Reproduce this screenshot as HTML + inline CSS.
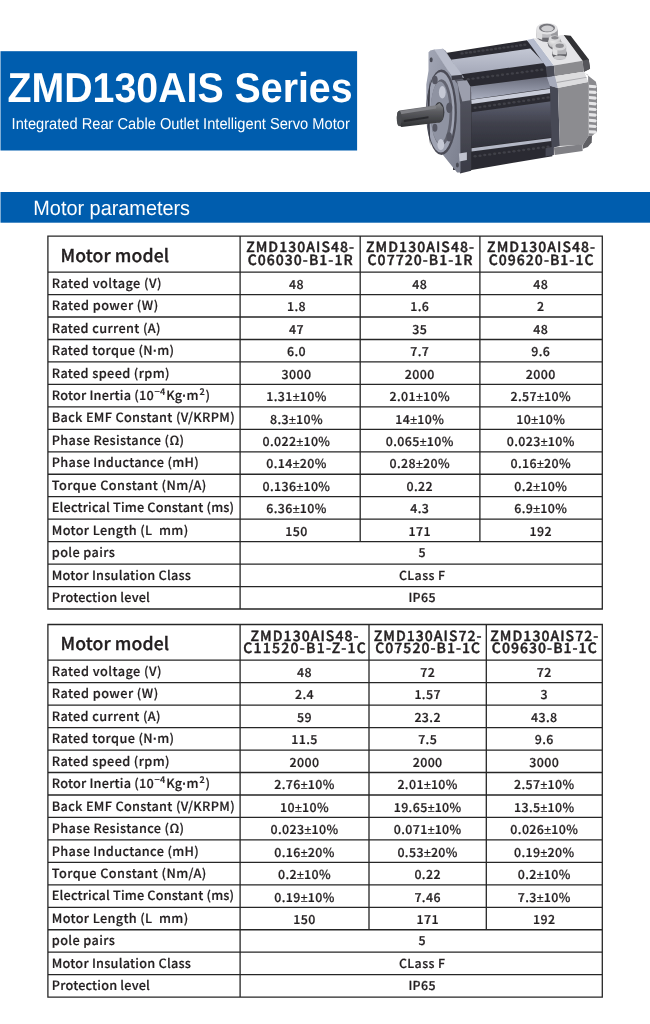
<!DOCTYPE html>
<html lang="en">
<head>
<meta charset="utf-8">
<title>ZMD130AIS Series</title>
<style>
*{margin:0;padding:0;box-sizing:border-box}
html,body{width:650px;height:1024px;background:#fff;overflow:hidden}
body{position:relative;font-family:"Noto Sans CJK SC", "Liberation Sans", sans-serif;color:#231f20;text-rendering:geometricPrecision}
.title{position:absolute;left:0;top:0;transform-origin:0 0;transform:translate(7.5px,57.9px) scaleX(0.9425);color:#fff;font-family:"Liberation Sans",sans-serif;font-weight:700;font-size:41.7px;line-height:60px;white-space:nowrap}
.sub{position:absolute;left:0;top:0;transform-origin:0 0;transform:translate(11.6px,109.6px) scaleX(0.928);color:#fff;font-family:"Liberation Sans",sans-serif;font-weight:400;font-size:15.8px;line-height:30px;white-space:nowrap}
.bart{position:absolute;left:0;top:0;transform-origin:0 0;transform:translate(33.3px,193.7px) scaleX(0.96);color:#fff;font-family:"Liberation Sans",sans-serif;font-weight:400;font-size:20.7px;line-height:30px;white-space:nowrap}
.grid,.bg{position:absolute;left:0;top:0;pointer-events:none}
.pm{font-family:"Liberation Sans",sans-serif;font-weight:400;letter-spacing:0.2px}
.dot{font-family:"Liberation Sans",sans-serif;font-weight:700;letter-spacing:0}
table,thead,tbody,tr,th{display:contents}
.mm,.hd,.lb,.vl{display:block;position:absolute;white-space:nowrap;font-weight:500;text-align:left;vertical-align:baseline}
.mm{font-size:17.6px;line-height:36px;padding-left:12.6px;letter-spacing:0.12px;-webkit-text-stroke:0.35px #231f20}
.hd{font-size:14px;line-height:14px;text-align:center;letter-spacing:1.05px;padding-left:1px;-webkit-text-stroke:0.42px #231f20}
.lb{font-size:12.7px;line-height:22px;padding-left:3.9px;-webkit-text-stroke:0.2px #231f20}
.vl{font-size:12.4px;line-height:22px;text-align:center;letter-spacing:0.4px;-webkit-text-stroke:0.22px #231f20}
sup{font-size:9.2px;line-height:0;vertical-align:baseline;position:relative;top:-4.8px;letter-spacing:0.3px;margin:0 0.5px 0 0.7px}
.motor{position:absolute;left:0;top:0}
</style>
</head>
<body>
<svg class="bg" width="650" height="230" viewBox="0 0 650 230"><rect x="0.5" y="51.2" width="356.6" height="99.3" fill="#005dae"/><rect x="0.5" y="192" width="650" height="30.7" fill="#005dae"/></svg>
<h1 class="title">ZMD130AIS Series</h1>
<p class="sub">Integrated Rear Cable Outlet Intelligent Servo Motor</p>
<svg class="motor" width="650" height="190" viewBox="0 0 650 190"><defs>
<linearGradient id="gShaft" x1="0" y1="0" x2="0" y2="1"><stop offset="0" stop-color="#8a8b8f"/><stop offset="0.35" stop-color="#5b5c60"/><stop offset="1" stop-color="#2f3033"/></linearGradient>
<linearGradient id="gFace" x1="0" y1="0" x2="1" y2="1"><stop offset="0" stop-color="#a3a7b6"/><stop offset="1" stop-color="#7b7f8e"/></linearGradient>
<linearGradient id="gSide" x1="0" y1="0" x2="0" y2="1"><stop offset="0" stop-color="#9a9dab"/><stop offset="0.18" stop-color="#5a5b66"/><stop offset="1" stop-color="#3a3b45"/></linearGradient>
<linearGradient id="gBig" x1="0" y1="0" x2="0" y2="1"><stop offset="0" stop-color="#5d6070"/><stop offset="0.5" stop-color="#3f404b"/><stop offset="1" stop-color="#30313a"/></linearGradient>
<linearGradient id="gL2" x1="0" y1="0" x2="0" y2="1"><stop offset="0" stop-color="#6a6d7c"/><stop offset="1" stop-color="#a9aebf"/></linearGradient>
<linearGradient id="gL1" x1="0" y1="0" x2="0" y2="1"><stop offset="0" stop-color="#c3c7d4"/><stop offset="1" stop-color="#a4a8b8"/></linearGradient>
<radialGradient id="gGl" cx="0.4" cy="0.35" r="0.7"><stop offset="0" stop-color="#f4f4f4"/><stop offset="0.7" stop-color="#c4c4c6"/><stop offset="1" stop-color="#77777a"/></radialGradient>
<filter id="soft" x="-5%" y="-5%" width="110%" height="110%"><feGaussianBlur stdDeviation="0.45"/></filter>
</defs><g filter="url(#soft)"><polygon points="445.5,53.0 526.9,40.3 552.3,66.2 552.3,156.2 471.5,170.0 453.1,170.0 453.1,77.7" fill="#2b2b31" /><polygon points="450.8,59.7 530.4,48.6 544.2,62.9 460.0,74.5" fill="url(#gL1)" /><polygon points="470.4,86.5 547.2,76.8 550.5,88.3 471.1,99.4" fill="url(#gL2)" /><polygon points="471.1,99.8 550.5,88.8 551.4,92.9 471.5,104.0" fill="#c9cdda" /><polygon points="471.5,112.3 551.4,101.2 551.4,137.2 471.5,147.4" fill="url(#gBig)" /><polygon points="471.5,148.3 551.4,137.9 551.4,140.9 471.5,151.5" fill="#b4b8c6" /><ellipse cx="462.1" cy="53.4" rx="1.6" ry="1.2" fill="#404148"/><ellipse cx="466.3" cy="52.8" rx="1.6" ry="1.2" fill="#404148"/><ellipse cx="470.5" cy="52.3" rx="1.6" ry="1.2" fill="#404148"/><ellipse cx="474.6" cy="51.7" rx="1.6" ry="1.2" fill="#404148"/><ellipse cx="478.8" cy="51.1" rx="1.6" ry="1.2" fill="#404148"/><ellipse cx="483.0" cy="50.5" rx="1.6" ry="1.2" fill="#404148"/><ellipse cx="487.2" cy="49.9" rx="1.6" ry="1.2" fill="#404148"/><ellipse cx="491.4" cy="49.4" rx="1.6" ry="1.2" fill="#404148"/><ellipse cx="495.6" cy="48.8" rx="1.6" ry="1.2" fill="#404148"/><ellipse cx="499.7" cy="48.2" rx="1.6" ry="1.2" fill="#404148"/><ellipse cx="503.9" cy="47.6" rx="1.6" ry="1.2" fill="#404148"/><ellipse cx="508.1" cy="47.1" rx="1.6" ry="1.2" fill="#404148"/><ellipse cx="512.3" cy="46.5" rx="1.6" ry="1.2" fill="#404148"/><ellipse cx="516.5" cy="45.9" rx="1.6" ry="1.2" fill="#404148"/><ellipse cx="520.6" cy="45.3" rx="1.6" ry="1.2" fill="#404148"/><ellipse cx="524.8" cy="44.8" rx="1.6" ry="1.2" fill="#404148"/><ellipse cx="468.2" cy="79.2" rx="1.6" ry="1.2" fill="#404148"/><ellipse cx="473.1" cy="78.6" rx="1.6" ry="1.2" fill="#404148"/><ellipse cx="478.0" cy="78.0" rx="1.6" ry="1.2" fill="#404148"/><ellipse cx="482.9" cy="77.3" rx="1.6" ry="1.2" fill="#404148"/><ellipse cx="487.8" cy="76.7" rx="1.6" ry="1.2" fill="#404148"/><ellipse cx="492.7" cy="76.0" rx="1.6" ry="1.2" fill="#404148"/><ellipse cx="497.6" cy="75.4" rx="1.6" ry="1.2" fill="#404148"/><ellipse cx="502.5" cy="74.8" rx="1.6" ry="1.2" fill="#404148"/><ellipse cx="507.5" cy="74.1" rx="1.6" ry="1.2" fill="#404148"/><ellipse cx="512.4" cy="73.5" rx="1.6" ry="1.2" fill="#404148"/><ellipse cx="517.3" cy="72.9" rx="1.6" ry="1.2" fill="#404148"/><ellipse cx="522.2" cy="72.2" rx="1.6" ry="1.2" fill="#404148"/><ellipse cx="527.1" cy="71.6" rx="1.6" ry="1.2" fill="#404148"/><ellipse cx="532.0" cy="71.0" rx="1.6" ry="1.2" fill="#404148"/><ellipse cx="536.9" cy="70.3" rx="1.6" ry="1.2" fill="#404148"/><ellipse cx="541.8" cy="69.7" rx="1.6" ry="1.2" fill="#404148"/><ellipse cx="475.1" cy="107.8" rx="1.6" ry="1.2" fill="#404148"/><ellipse cx="480.0" cy="107.1" rx="1.6" ry="1.2" fill="#404148"/><ellipse cx="484.8" cy="106.4" rx="1.6" ry="1.2" fill="#404148"/><ellipse cx="489.7" cy="105.7" rx="1.6" ry="1.2" fill="#404148"/><ellipse cx="494.6" cy="105.0" rx="1.6" ry="1.2" fill="#404148"/><ellipse cx="499.4" cy="104.3" rx="1.6" ry="1.2" fill="#404148"/><ellipse cx="504.3" cy="103.7" rx="1.6" ry="1.2" fill="#404148"/><ellipse cx="509.1" cy="103.0" rx="1.6" ry="1.2" fill="#404148"/><ellipse cx="514.0" cy="102.3" rx="1.6" ry="1.2" fill="#404148"/><ellipse cx="518.9" cy="101.6" rx="1.6" ry="1.2" fill="#404148"/><ellipse cx="523.7" cy="100.9" rx="1.6" ry="1.2" fill="#404148"/><ellipse cx="528.6" cy="100.2" rx="1.6" ry="1.2" fill="#404148"/><ellipse cx="533.5" cy="99.5" rx="1.6" ry="1.2" fill="#404148"/><ellipse cx="538.3" cy="98.8" rx="1.6" ry="1.2" fill="#404148"/><ellipse cx="543.2" cy="98.1" rx="1.6" ry="1.2" fill="#404148"/><ellipse cx="548.0" cy="97.4" rx="1.6" ry="1.2" fill="#404148"/><ellipse cx="475.1" cy="156.3" rx="1.6" ry="1.2" fill="#404148"/><ellipse cx="480.0" cy="155.7" rx="1.6" ry="1.2" fill="#404148"/><ellipse cx="484.8" cy="155.0" rx="1.6" ry="1.2" fill="#404148"/><ellipse cx="489.7" cy="154.4" rx="1.6" ry="1.2" fill="#404148"/><ellipse cx="494.6" cy="153.8" rx="1.6" ry="1.2" fill="#404148"/><ellipse cx="499.4" cy="153.1" rx="1.6" ry="1.2" fill="#404148"/><ellipse cx="504.3" cy="152.5" rx="1.6" ry="1.2" fill="#404148"/><ellipse cx="509.1" cy="151.9" rx="1.6" ry="1.2" fill="#404148"/><ellipse cx="514.0" cy="151.2" rx="1.6" ry="1.2" fill="#404148"/><ellipse cx="518.9" cy="150.6" rx="1.6" ry="1.2" fill="#404148"/><ellipse cx="523.7" cy="150.0" rx="1.6" ry="1.2" fill="#404148"/><ellipse cx="528.6" cy="149.3" rx="1.6" ry="1.2" fill="#404148"/><ellipse cx="533.5" cy="148.7" rx="1.6" ry="1.2" fill="#404148"/><ellipse cx="538.3" cy="148.0" rx="1.6" ry="1.2" fill="#404148"/><ellipse cx="543.2" cy="147.4" rx="1.6" ry="1.2" fill="#404148"/><ellipse cx="548.0" cy="146.8" rx="1.6" ry="1.2" fill="#404148"/><polygon points="545.6,66.1 553.9,65.4 554.9,76.2 547.1,77.3" fill="#4a4b57" /><polygon points="547.1,77.3 554.9,76.2 557.7,87.8 549.9,85.9" fill="#a7abbb" /><polygon points="549.9,85.8 557.9,88.1 559.9,146.1 553.9,147.5 553.9,155.1 545.6,156.5 545.6,148.2 551.6,147.0" fill="#474854" /><polygon points="526.9,39.9 533.8,38.4 553.9,65.4 546.0,66.5" fill="#b6bccd" /><polygon points="533.8,38.4 563.2,34.9 582.6,60.7 553.9,65.4" fill="#e4e4e7" /><polygon points="563.6,34.9 570.7,35.8 588.7,59.3 590.1,68.7 584.0,71.8 582.6,60.7" fill="#333336" /><polygon points="582.6,60.7 588.7,59.3 590.1,68.7 584.0,71.8" fill="#55555a" /><polygon points="553.9,65.4 582.6,60.7 584.0,71.8 554.9,76.2" fill="#8b8b8f" /><polygon points="554.9,76.2 584.0,71.8 588.1,82.0 557.7,87.8" fill="#dcdcde" /><polygon points="556.3,82.0 586.2,77.0 586.5,77.8 556.6,83.0" fill="#a8a8ac" /><polygon points="557.9,88.1 588.1,82.1 588.7,135.7 583.0,144.7 559.9,146.1" fill="#8c8c90" /><polygon points="554.9,76.2 584.0,71.8 588.1,82.0 557.7,87.8" fill="#dcdcde" /><polygon points="556.3,82.0 586.2,77.0 586.5,77.8 556.6,83.0" fill="#a8a8ac" /><polygon points="547.1,77.3 554.9,76.2 557.7,87.8 549.9,85.9" fill="#a7abbb" /><polygon points="553.9,147.5 582.6,144.3 582.6,150.9 554.6,155.1" fill="#808085" /><polygon points="583.0,144.7 588.7,135.7 592.0,136.0 591.7,142.6 587.8,147.0 583.0,148.8" fill="#5f5f64" /><polygon points="584.8,73.1 595.9,81.7 597.0,87.2 597.0,131.5 592.0,136.0 588.7,135.7 588.1,75.0" fill="#8a8a8e" /><polygon points="589.0,84.7 595.5,85.2 597.0,86.7 595.5,88.3 589.0,87.8" fill="#e6e6e8" /><polygon points="589.0,90.4 595.5,90.8 597.0,92.4 595.5,94.0 589.0,93.5" fill="#e6e6e8" /><polygon points="589.0,96.1 595.5,96.5 597.0,98.0 595.5,99.7 589.0,99.1" fill="#e6e6e8" /><polygon points="589.0,101.8 595.5,102.2 597.0,103.7 595.5,105.4 589.0,104.8" fill="#e6e6e8" /><polygon points="589.0,107.4 595.5,107.9 597.0,109.4 595.5,111.0 589.0,110.5" fill="#e6e6e8" /><polygon points="589.0,113.1 595.5,113.5 597.0,115.1 595.5,116.7 589.0,116.2" fill="#e6e6e8" /><polygon points="589.0,118.8 595.5,119.2 597.0,120.7 595.5,122.4 589.0,121.8" fill="#e6e6e8" /><polygon points="589.0,124.5 595.5,124.9 597.0,126.4 595.5,128.1 589.0,127.5" fill="#e6e6e8" /><polygon points="589.0,130.2 595.5,130.6 597.0,132.1 595.5,133.8 589.0,133.2" fill="#e6e6e8" /><ellipse cx="547.0" cy="34.9" rx="10.8" ry="7.2" fill="#6b6b70" /><polygon points="536.3,29.4 557.7,29.4 557.7,37.7 536.3,37.7" fill="#bcbcc0" /><polygon points="536.3,29.4 542.2,29.4 542.2,39.8 536.3,37.7" fill="#dedee0" /><polygon points="551.2,29.4 557.7,29.4 557.7,37.7 551.2,39.8" fill="#9a9a9e" /><ellipse cx="547.0" cy="28.7" rx="10.8" ry="5.8" fill="#e2e2e4" /><ellipse cx="547.0" cy="28.0" rx="8.0" ry="4.2" fill="#77777c" /><ellipse cx="547.4" cy="28.6" rx="6.1" ry="3.0" fill="#cfcfd2" /><ellipse cx="554.6" cy="43.2" rx="6.9" ry="6.4" fill="#6b6b70" /><ellipse cx="554.6" cy="42.1" rx="6.6" ry="6.1" fill="url(#gGl)" /><ellipse cx="554.6" cy="38.4" rx="5.8" ry="3.0" fill="#d8d8da" /><ellipse cx="554.9" cy="37.7" rx="3.6" ry="1.7" fill="#8a8a8e" /><ellipse cx="559.5" cy="54.0" rx="7.5" ry="5.8" fill="#5f5f64" /><polygon points="552.7,46.3 566.2,46.3 566.2,54.3 552.7,54.3" fill="#b4b4b8" /><polygon points="552.7,46.3 557.4,46.3 557.4,55.7 552.7,54.3" fill="#e0e0e2" /><ellipse cx="559.5" cy="46.3" rx="6.9" ry="4.2" fill="#d6d6d8" /><ellipse cx="559.7" cy="45.7" rx="4.2" ry="2.2" fill="#8e8e92" /><ellipse cx="559.9" cy="57.6" rx="6.4" ry="2.2" fill="#c8c8cb" /><polygon points="442.3,48.6 445.7,50.8 462.3,78.5 470.0,86.2 471.2,92.3 471.2,170.8 460.0,173.5 457.7,104.6" fill="url(#gSide)" /><polygon points="433.8,49.5 443.1,48.8 464.2,77.8 451.8,76.6" fill="#b9bdcb" /><polygon points="457.1,81.2 466.9,80.3 470.3,86.2 470.3,100.3 462.3,101.5 459.2,90.8" fill="#9c9fad" /><polygon points="428.5,52.3 430.3,50.5 434.3,49.5 451.8,76.3 457.7,84.6 460.2,104.6 460.5,172.6 457.1,172.6 436.2,146.5 428.8,132.3 426.3,120.0 426.3,84.6 428.5,70.8" fill="url(#gFace)" /><ellipse cx="431.2" cy="59.7" rx="1.5" ry="2.5" fill="#4a4b55" /><ellipse cx="457.4" cy="164.9" rx="1.5" ry="2.5" fill="#4a4b55" /><polygon points="451.5,75.7 462.3,74.8 462.3,78.8 451.8,80.3" fill="#3a3b44" /><polygon points="458.9,153.5 466.9,152.3 466.9,160.0 459.5,161.5" fill="#c0c3cf" /><ellipse cx="441.5" cy="112.3" rx="15.4" ry="42.8" fill="#4b4c57" /><ellipse cx="440.8" cy="112.3" rx="13.8" ry="40.3" fill="#a0a4b3" /><ellipse cx="441.5" cy="112.3" rx="10.8" ry="33.1" fill="#62646f" /><ellipse cx="440.0" cy="112.3" rx="9.5" ry="30.8" fill="#8f93a2" /><path d="M430.3 78.5 Q424.6 112.3 430.3 146.2 Q428.5 112.3 430.3 78.5Z" fill="#3a3b44"/><ellipse cx="449.2" cy="107.7" rx="3.1" ry="5.2" fill="#555762" /><ellipse cx="449.2" cy="136.9" rx="2.8" ry="4.6" fill="#555762" /><ellipse cx="434.9" cy="80.0" rx="2.8" ry="4.3" fill="#555762" /><ellipse cx="434.9" cy="127.7" rx="2.5" ry="4.0" fill="#555762" /><ellipse cx="442.3" cy="92.3" rx="3.4" ry="6.2" fill="#c5c8d4" /><ellipse cx="440.8" cy="144.6" rx="3.4" ry="5.5" fill="#c5c8d4" /><ellipse cx="439.2" cy="112.3" rx="5.2" ry="10.2" fill="#3c3d42" /><polygon points="399.5,110.5 436.2,105.2 439.5,103.1 443.1,107.7 443.1,118.5 439.5,122.5 401.5,127.1 397.7,124.3 396.8,116.9 397.4,112.3" fill="url(#gShaft)" /><polygon points="400.2,111.1 436.2,105.8 436.2,108.6 400.2,114.2" fill="#808186" /><ellipse cx="399.2" cy="118.5" rx="2.5" ry="7.7" fill="#4a4b4f" /><polygon points="403.8,120.0 428.5,116.3 428.5,118.2 403.8,122.2" fill="#2a2b2e" /></g></svg>
<h2 class="bart">Motor parameters</h2>
<svg class="grid" width="650" height="1024" viewBox="0 0 650 1024"><path d="M47.25 236.2H602.95M47.25 272.1H602.95M47.25 294.56H602.95M47.25 317.02H602.95M47.25 339.48H602.95M47.25 361.94H602.95M47.25 384.4H602.95M47.25 406.86H602.95M47.25 429.32H602.95M47.25 451.78H602.95M47.25 474.24H602.95M47.25 496.7H602.95M47.25 519.16H602.95M47.25 541.62H602.95M47.25 564.08H602.95M47.25 586.54H602.95M47.25 609H602.95M47.9 236.2V609M240.1 236.2V609M360.2 236.2V541.62M479.9 236.2V541.62M602.3 236.2V609" fill="none" stroke="#262626" stroke-width="1.3"/></svg>
<table>
<thead><tr>
<th class="mm" style="left:47.9px;top:238px;width:192.2px">Motor model</th>
<th><span class="hd" style="left:240.1px;top:240px;width:120.1px">ZMD130AIS48-</span><span class="hd" style="left:240.1px;top:253px;width:120.1px">C06030-B1-1R</span></th>
<th><span class="hd" style="left:360.2px;top:240px;width:119.7px">ZMD130AIS48-</span><span class="hd" style="left:360.2px;top:253px;width:119.7px">C07720-B1-1R</span></th>
<th><span class="hd" style="left:479.9px;top:240px;width:122.4px">ZMD130AIS48-</span><span class="hd" style="left:479.9px;top:253px;width:122.4px">C09620-B1-1C</span></th>
</tr></thead>
<tbody>
<tr><th class="lb" style="left:47.9px;top:272px;width:192.2px;letter-spacing:0.46px">Rated voltage (V)</th><td class="vl" style="left:236.4px;top:273px;width:120.1px">48</td><td class="vl" style="left:359.9px;top:273px;width:119.7px">48</td><td class="vl" style="left:479.6px;top:273px;width:122.4px">48</td></tr>
<tr><th class="lb" style="left:47.9px;top:294px;width:192.2px;letter-spacing:0.46px">Rated power (W)</th><td class="vl" style="left:236.4px;top:295px;width:120.1px">1.8</td><td class="vl" style="left:359.9px;top:295px;width:119.7px">1.6</td><td class="vl" style="left:479.6px;top:295px;width:122.4px">2</td></tr>
<tr><th class="lb" style="left:47.9px;top:317px;width:192.2px;letter-spacing:0.38px">Rated current (A)</th><td class="vl" style="left:236.4px;top:318px;width:120.1px">47</td><td class="vl" style="left:359.9px;top:318px;width:119.7px">35</td><td class="vl" style="left:479.6px;top:318px;width:122.4px">48</td></tr>
<tr><th class="lb" style="left:47.9px;top:339px;width:192.2px;letter-spacing:0.38px">Rated torque (N<span class="dot">·</span>m)</th><td class="vl" style="left:236.4px;top:340px;width:120.1px">6.0</td><td class="vl" style="left:359.9px;top:340px;width:119.7px">7.7</td><td class="vl" style="left:479.6px;top:340px;width:122.4px">9.6</td></tr>
<tr><th class="lb" style="left:47.9px;top:362px;width:192.2px;letter-spacing:0.38px">Rated speed (rpm)</th><td class="vl" style="left:236.4px;top:363px;width:120.1px">3000</td><td class="vl" style="left:359.9px;top:363px;width:119.7px">2000</td><td class="vl" style="left:479.6px;top:363px;width:122.4px">2000</td></tr>
<tr><th class="lb" style="left:47.9px;top:384px;width:192.2px;letter-spacing:0.22px">Rotor Inertia (10<sup>−4</sup>Kg<span class="dot">·</span>m<sup>2</sup>)</th><td class="vl" style="left:236.4px;top:385px;width:120.1px">1.31<span class="pm">±</span>10%</td><td class="vl" style="left:359.9px;top:385px;width:119.7px">2.01<span class="pm">±</span>10%</td><td class="vl" style="left:479.6px;top:385px;width:122.4px">2.57<span class="pm">±</span>10%</td></tr>
<tr><th class="lb" style="left:47.9px;top:406px;width:192.2px;letter-spacing:0.33px">Back EMF Constant (V/KRPM)</th><td class="vl" style="left:236.4px;top:408px;width:120.1px">8.3<span class="pm">±</span>10%</td><td class="vl" style="left:359.9px;top:408px;width:119.7px">14<span class="pm">±</span>10%</td><td class="vl" style="left:479.6px;top:408px;width:122.4px">10<span class="pm">±</span>10%</td></tr>
<tr><th class="lb" style="left:47.9px;top:429px;width:192.2px;letter-spacing:0.36px">Phase Resistance (Ω)</th><td class="vl" style="left:236.4px;top:430px;width:120.1px">0.022<span class="pm">±</span>10%</td><td class="vl" style="left:359.9px;top:430px;width:119.7px">0.065<span class="pm">±</span>10%</td><td class="vl" style="left:479.6px;top:430px;width:122.4px">0.023<span class="pm">±</span>10%</td></tr>
<tr><th class="lb" style="left:47.9px;top:451px;width:192.2px;letter-spacing:0.34px">Phase Inductance (mH)</th><td class="vl" style="left:236.4px;top:452px;width:120.1px">0.14<span class="pm">±</span>20%</td><td class="vl" style="left:359.9px;top:452px;width:119.7px">0.28<span class="pm">±</span>20%</td><td class="vl" style="left:479.6px;top:452px;width:122.4px">0.16<span class="pm">±</span>20%</td></tr>
<tr><th class="lb" style="left:47.9px;top:474px;width:192.2px;letter-spacing:0.42px">Torque Constant (Nm/A)</th><td class="vl" style="left:236.4px;top:475px;width:120.1px">0.136<span class="pm">±</span>10%</td><td class="vl" style="left:359.9px;top:475px;width:119.7px">0.22</td><td class="vl" style="left:479.6px;top:475px;width:122.4px">0.2<span class="pm">±</span>10%</td></tr>
<tr><th class="lb" style="left:47.9px;top:496px;width:192.2px;letter-spacing:0.18px">Electrical Time Constant (ms)</th><td class="vl" style="left:236.4px;top:497px;width:120.1px">6.36<span class="pm">±</span>10%</td><td class="vl" style="left:359.9px;top:497px;width:119.7px">4.3</td><td class="vl" style="left:479.6px;top:497px;width:122.4px">6.9<span class="pm">±</span>10%</td></tr>
<tr><th class="lb" style="left:47.9px;top:519px;width:192.2px;letter-spacing:0.36px">Motor Length (L&nbsp; mm)</th><td class="vl" style="left:236.4px;top:520px;width:120.1px">150</td><td class="vl" style="left:359.9px;top:520px;width:119.7px">171</td><td class="vl" style="left:479.6px;top:520px;width:122.4px">192</td></tr>
<tr><th class="lb" style="left:47.9px;top:541px;width:192.2px;letter-spacing:0.38px">pole pairs</th><td class="vl" colspan="3" style="left:241.1px;top:541px;width:362.2px">5</td></tr>
<tr><th class="lb" style="left:47.9px;top:564px;width:192.2px;letter-spacing:0.24px">Motor Insulation Class</th><td class="vl" colspan="3" style="left:241.1px;top:564px;width:362.2px">CLass F</td></tr>
<tr><th class="lb" style="left:47.9px;top:586px;width:192.2px;letter-spacing:0.19px">Protection level</th><td class="vl" colspan="3" style="left:241.1px;top:586px;width:362.2px">IP65</td></tr>
</tbody></table>
<svg class="grid" width="650" height="1024" viewBox="0 0 650 1024"><path d="M47.25 624.5H602.95M47.25 660.2H602.95M47.25 682.66H602.95M47.25 705.13H602.95M47.25 727.59H602.95M47.25 750.05H602.95M47.25 772.52H602.95M47.25 794.98H602.95M47.25 817.44H602.95M47.25 839.91H602.95M47.25 862.37H602.95M47.25 884.83H602.95M47.25 907.3H602.95M47.25 929.76H602.95M47.25 952.22H602.95M47.25 974.69H602.95M47.25 997.15H602.95M47.9 624.5V997.15M240.1 624.5V997.15M369 624.5V929.76M486.3 624.5V929.76M602.3 624.5V997.15" fill="none" stroke="#262626" stroke-width="1.3"/></svg>
<table>
<thead><tr>
<th class="mm" style="left:47.9px;top:626px;width:192.2px">Motor model</th>
<th><span class="hd" style="left:240.1px;top:629px;width:128.9px">ZMD130AIS48-</span><span class="hd" style="left:240.1px;top:641px;width:128.9px;letter-spacing:1.26px;padding-left:1.2px">C11520-B1-Z-1C</span></th>
<th><span class="hd" style="left:369px;top:629px;width:117.3px">ZMD130AIS72-</span><span class="hd" style="left:369px;top:641px;width:117.3px">C07520-B1-1C</span></th>
<th><span class="hd" style="left:486.3px;top:629px;width:116px">ZMD130AIS72-</span><span class="hd" style="left:486.3px;top:641px;width:116px">C09630-B1-1C</span></th>
</tr></thead>
<tbody>
<tr><th class="lb" style="left:47.9px;top:660px;width:192.2px;letter-spacing:0.46px">Rated voltage (V)</th><td class="vl" style="left:240.1px;top:661px;width:128.9px">48</td><td class="vl" style="left:369px;top:661px;width:117.3px">72</td><td class="vl" style="left:486.3px;top:661px;width:116px">72</td></tr>
<tr><th class="lb" style="left:47.9px;top:682px;width:192.2px;letter-spacing:0.46px">Rated power (W)</th><td class="vl" style="left:240.1px;top:683px;width:128.9px">2.4</td><td class="vl" style="left:369px;top:683px;width:117.3px">1.57</td><td class="vl" style="left:486.3px;top:683px;width:116px">3</td></tr>
<tr><th class="lb" style="left:47.9px;top:705px;width:192.2px;letter-spacing:0.38px">Rated current (A)</th><td class="vl" style="left:240.1px;top:706px;width:128.9px">59</td><td class="vl" style="left:369px;top:706px;width:117.3px">23.2</td><td class="vl" style="left:486.3px;top:706px;width:116px">43.8</td></tr>
<tr><th class="lb" style="left:47.9px;top:727px;width:192.2px;letter-spacing:0.38px">Rated torque (N<span class="dot">·</span>m)</th><td class="vl" style="left:240.1px;top:728px;width:128.9px">11.5</td><td class="vl" style="left:369px;top:728px;width:117.3px">7.5</td><td class="vl" style="left:486.3px;top:728px;width:116px">9.6</td></tr>
<tr><th class="lb" style="left:47.9px;top:750px;width:192.2px;letter-spacing:0.38px">Rated speed (rpm)</th><td class="vl" style="left:240.1px;top:751px;width:128.9px">2000</td><td class="vl" style="left:369px;top:751px;width:117.3px">2000</td><td class="vl" style="left:486.3px;top:751px;width:116px">3000</td></tr>
<tr><th class="lb" style="left:47.9px;top:772px;width:192.2px;letter-spacing:0.22px">Rotor Inertia (10<sup>−4</sup>Kg<span class="dot">·</span>m<sup>2</sup>)</th><td class="vl" style="left:240.1px;top:773px;width:128.9px">2.76<span class="pm">±</span>10%</td><td class="vl" style="left:369px;top:773px;width:117.3px">2.01<span class="pm">±</span>10%</td><td class="vl" style="left:486.3px;top:773px;width:116px">2.57<span class="pm">±</span>10%</td></tr>
<tr><th class="lb" style="left:47.9px;top:795px;width:192.2px;letter-spacing:0.33px">Back EMF Constant (V/KRPM)</th><td class="vl" style="left:240.1px;top:796px;width:128.9px">10<span class="pm">±</span>10%</td><td class="vl" style="left:369px;top:796px;width:117.3px">19.65<span class="pm">±</span>10%</td><td class="vl" style="left:486.3px;top:796px;width:116px">13.5<span class="pm">±</span>10%</td></tr>
<tr><th class="lb" style="left:47.9px;top:817px;width:192.2px;letter-spacing:0.36px">Phase Resistance (Ω)</th><td class="vl" style="left:240.1px;top:818px;width:128.9px">0.023<span class="pm">±</span>10%</td><td class="vl" style="left:369px;top:818px;width:117.3px">0.071<span class="pm">±</span>10%</td><td class="vl" style="left:486.3px;top:818px;width:116px">0.026<span class="pm">±</span>10%</td></tr>
<tr><th class="lb" style="left:47.9px;top:840px;width:192.2px;letter-spacing:0.34px">Phase Inductance (mH)</th><td class="vl" style="left:240.1px;top:841px;width:128.9px">0.16<span class="pm">±</span>20%</td><td class="vl" style="left:369px;top:841px;width:117.3px">0.53<span class="pm">±</span>20%</td><td class="vl" style="left:486.3px;top:841px;width:116px">0.19<span class="pm">±</span>20%</td></tr>
<tr><th class="lb" style="left:47.9px;top:862px;width:192.2px;letter-spacing:0.42px">Torque Constant (Nm/A)</th><td class="vl" style="left:240.1px;top:863px;width:128.9px">0.2<span class="pm">±</span>10%</td><td class="vl" style="left:369px;top:863px;width:117.3px">0.22</td><td class="vl" style="left:486.3px;top:863px;width:116px">0.2<span class="pm">±</span>10%</td></tr>
<tr><th class="lb" style="left:47.9px;top:884px;width:192.2px;letter-spacing:0.18px">Electrical Time Constant (ms)</th><td class="vl" style="left:240.1px;top:886px;width:128.9px">0.19<span class="pm">±</span>10%</td><td class="vl" style="left:369px;top:886px;width:117.3px">7.46</td><td class="vl" style="left:486.3px;top:886px;width:116px">7.3<span class="pm">±</span>10%</td></tr>
<tr><th class="lb" style="left:47.9px;top:907px;width:192.2px;letter-spacing:0.36px">Motor Length (L&nbsp; mm)</th><td class="vl" style="left:240.1px;top:908px;width:128.9px">150</td><td class="vl" style="left:369px;top:908px;width:117.3px">171</td><td class="vl" style="left:486.3px;top:908px;width:116px">192</td></tr>
<tr><th class="lb" style="left:47.9px;top:929px;width:192.2px;letter-spacing:0.38px">pole pairs</th><td class="vl" colspan="3" style="left:241.1px;top:929px;width:362.2px">5</td></tr>
<tr><th class="lb" style="left:47.9px;top:952px;width:192.2px;letter-spacing:0.24px">Motor Insulation Class</th><td class="vl" colspan="3" style="left:241.1px;top:952px;width:362.2px">CLass F</td></tr>
<tr><th class="lb" style="left:47.9px;top:974px;width:192.2px;letter-spacing:0.19px">Protection level</th><td class="vl" colspan="3" style="left:241.1px;top:974px;width:362.2px">IP65</td></tr>
</tbody></table>
</body>
</html>
